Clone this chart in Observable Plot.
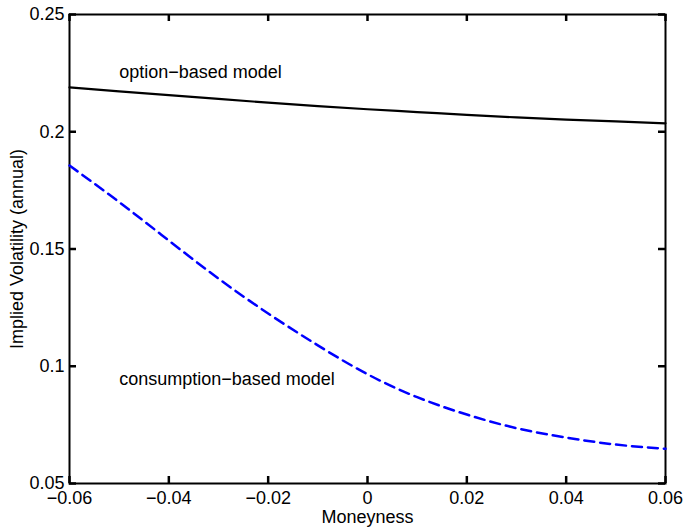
<!DOCTYPE html>
<html>
<head>
<meta charset="utf-8">
<script src="https://cdn.jsdelivr.net/npm/d3@7"></script>
<script src="https://cdn.jsdelivr.net/npm/@observablehq/plot@0.6"></script>
<style>
  html, body { margin: 0; padding: 0; background: #fff; }
  #chart svg { display: block; }
</style>
</head>
<body>
<div id="chart"></div>
<script>
// Moneyness grid
const moneyness = [-0.06, -0.05, -0.04, -0.03, -0.02, -0.01, 0, 0.01, 0.02, 0.03, 0.04, 0.05, 0.06];
// Option-based model implied volatility
const optionVol = [0.2189, 0.2172, 0.2156, 0.2140, 0.2124, 0.2109, 0.2096, 0.2084, 0.2072, 0.2061, 0.2052, 0.2044, 0.2036];
// Consumption-based model implied volatility
const consumptionVol = [0.1856, 0.1700, 0.1536, 0.1374, 0.1225, 0.1089, 0.0966, 0.0868, 0.0794, 0.0736, 0.0696, 0.0666, 0.0648];
// Tick values
const xTicks = [-0.06, -0.04, -0.02, 0, 0.02, 0.04, 0.06];
const yTicks = [0.05, 0.1, 0.15, 0.2, 0.25];
const xTickLabels = ["\u22120.06", "\u22120.04", "\u22120.02", "0", "0.02", "0.04", "0.06"];
const yTickLabels = ["0.05", "0.1", "0.15", "0.2", "0.25"];
// Annotations
const labelNames = ["option\u2212based model", "consumption\u2212based model"];
const labelX = [-0.05, -0.05];
const labelY = [0.2252, 0.0943];

const optionData = moneyness.map((m, i) => ({m, v: optionVol[i]}));
const consumptionData = moneyness.map((m, i) => ({m, v: consumptionVol[i]}));
const labels = labelNames.map((t, i) => ({t, x: labelX[i], y: labelY[i]}));

const font = "'Liberation Sans', Arial, Helvetica, sans-serif";

const W = 686, H = 528, ML = 69, MR = 21, MT = 14, MB = 45;
const innerW = W - ML - MR, innerH = H - MT - MB;
const xDomain = [-0.06, 0.06], yDomain = [0.05, 0.25];
const tickLen = 7;
// tick length converted to data units through the scale ratio
const tx = (xDomain[1] - xDomain[0]) * tickLen / innerW;
const ty = (yDomain[1] - yDomain[0]) * tickLen / innerH;

const chart = Plot.plot({
  width: W,
  height: H,
  marginLeft: ML,
  marginRight: MR,
  marginTop: MT,
  marginBottom: MB,
  style: {fontFamily: font, fontSize: "18px", color: "black", background: "white"},
  x: {domain: xDomain},
  y: {domain: yDomain},
  marks: [
    // inward ticks (bottom, top, left, right)
    Plot.ruleX(xTicks, {x: (d) => d, y1: yDomain[0], y2: yDomain[0] + ty, stroke: "black", strokeWidth: 2.5}),
    Plot.ruleX(xTicks, {x: (d) => d, y1: yDomain[1] - ty, y2: yDomain[1], stroke: "black", strokeWidth: 2.5}),
    Plot.ruleY(yTicks, {y: (d) => d, x1: xDomain[0], x2: xDomain[0] + tx, stroke: "black", strokeWidth: 2.5}),
    Plot.ruleY(yTicks, {y: (d) => d, x1: xDomain[1] - tx, x2: xDomain[1], stroke: "black", strokeWidth: 2.5}),
    // tick labels
    Plot.axisX(xTicks, {anchor: "bottom", tickSize: 0, tickPadding: 8, fontSize: 18, label: null,
      tickFormat: (d) => xTickLabels[xTicks.indexOf(d)]}),
    Plot.axisY(yTicks, {anchor: "left", tickSize: 0, tickPadding: 5, fontSize: 18, label: null,
      tickFormat: (d) => yTickLabels[yTicks.indexOf(d)]}),
    Plot.frame({stroke: "black", strokeWidth: 2}),
    Plot.line(optionData, {x: "m", y: "v", stroke: "black", strokeWidth: 2.2, curve: "natural"}),
    Plot.line(consumptionData, {x: "m", y: "v", stroke: "#0000ff", strokeWidth: 2.5, strokeDasharray: "10,6", curve: "natural"}),
    Plot.text(labels, {x: "x", y: "y", text: "t", textAnchor: "start", fontSize: 18, fill: "black"}),
    Plot.text(["Moneyness"], {frameAnchor: "bottom", dy: 34, textAnchor: "middle", lineAnchor: "middle", fontSize: 18, fill: "black"}),
    Plot.text(["Implied Volatility (annual)"], {frameAnchor: "left", dx: -52, rotate: -90, textAnchor: "middle", lineAnchor: "middle", fontSize: 18, fill: "black"})
  ]
});
document.getElementById("chart").appendChild(chart);
</script>
</body>
</html>
